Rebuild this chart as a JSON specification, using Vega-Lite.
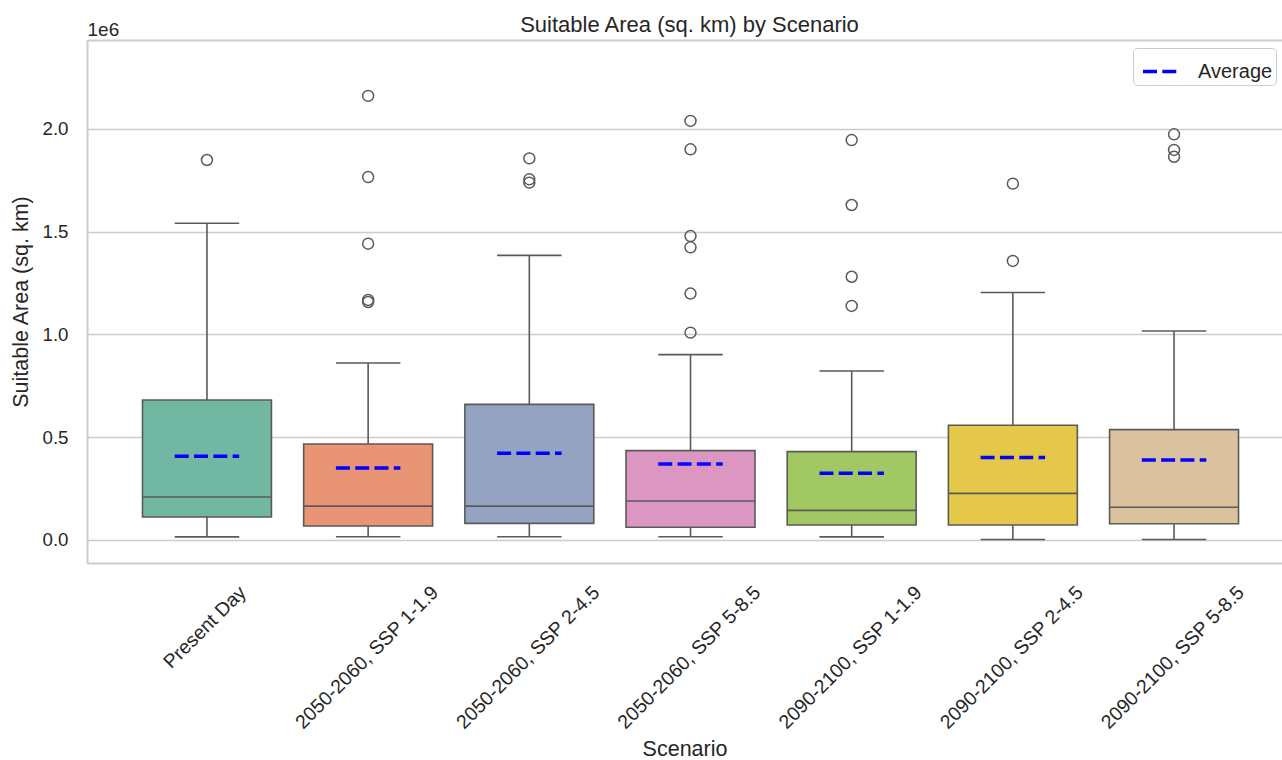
{
  "$schema": "https://vega.github.io/schema/vega-lite/v6.json",
  "autosize": {"type": "none"},
  "width": 1195,
  "height": 523,
  "padding": {"left": 87, "top": 40, "right": 0, "bottom": 197},
  "background": "white",
  "title": {"text": "Suitable Area (sq. km) by Scenario", "fontSize": 22, "fontWeight": "normal", "color": "#262626", "dx": 5, "offset": -17},
  "config": {
    "font": "Liberation Sans",
    "view": {"stroke": null},
    "axis": {"labelColor": "#262626", "titleColor": "#262626", "titleFontWeight": "normal"},
    "axisY": {
      "titleFontSize": 21.5, "titlePadding": 10,
      "labelFontSize": 18.7, "labelPadding": 19,
      "ticks": false, "tickSize": 0,
      "grid": true, "gridColor": "#cccccc", "gridWidth": 1.5,
      "domain": true, "domainColor": "#cccccc", "domainWidth": 2
    }
  },
  "datasets": {
    "boxes": [
      {"scenario": "Present Day", "lower": 15000, "q1": 112000, "median": 209000, "q3": 681000, "upper": 1541000, "mean": 407000},
      {"scenario": "2050-2060, SSP 1-1.9", "lower": 16000, "q1": 68000, "median": 165000, "q3": 467000, "upper": 861000, "mean": 350000},
      {"scenario": "2050-2060, SSP 2-4.5", "lower": 16000, "q1": 81000, "median": 165000, "q3": 660000, "upper": 1385000, "mean": 422000},
      {"scenario": "2050-2060, SSP 5-8.5", "lower": 16000, "q1": 62000, "median": 190000, "q3": 435000, "upper": 902000, "mean": 370000},
      {"scenario": "2090-2100, SSP 1-1.9", "lower": 15000, "q1": 73000, "median": 144000, "q3": 430000, "upper": 822000, "mean": 325000},
      {"scenario": "2090-2100, SSP 2-4.5", "lower": 2000, "q1": 73000, "median": 227000, "q3": 558000, "upper": 1204000, "mean": 401000},
      {"scenario": "2090-2100, SSP 5-8.5", "lower": 2000, "q1": 79000, "median": 159000, "q3": 537000, "upper": 1017000, "mean": 389000}
    ],
    "outliers": [
      {"scenario": "Present Day", "value": 1849000},
      {"scenario": "2050-2060, SSP 1-1.9", "value": 2161000},
      {"scenario": "2050-2060, SSP 1-1.9", "value": 1766000},
      {"scenario": "2050-2060, SSP 1-1.9", "value": 1442000},
      {"scenario": "2050-2060, SSP 1-1.9", "value": 1168000},
      {"scenario": "2050-2060, SSP 1-1.9", "value": 1158000},
      {"scenario": "2050-2060, SSP 2-4.5", "value": 1857000},
      {"scenario": "2050-2060, SSP 2-4.5", "value": 1755000},
      {"scenario": "2050-2060, SSP 2-4.5", "value": 1739000},
      {"scenario": "2050-2060, SSP 5-8.5", "value": 2039000},
      {"scenario": "2050-2060, SSP 5-8.5", "value": 1901000},
      {"scenario": "2050-2060, SSP 5-8.5", "value": 1479000},
      {"scenario": "2050-2060, SSP 5-8.5", "value": 1424000},
      {"scenario": "2050-2060, SSP 5-8.5", "value": 1199000},
      {"scenario": "2050-2060, SSP 5-8.5", "value": 1009000},
      {"scenario": "2090-2100, SSP 1-1.9", "value": 1946000},
      {"scenario": "2090-2100, SSP 1-1.9", "value": 1630000},
      {"scenario": "2090-2100, SSP 1-1.9", "value": 1281000},
      {"scenario": "2090-2100, SSP 1-1.9", "value": 1139000},
      {"scenario": "2090-2100, SSP 2-4.5", "value": 1734000},
      {"scenario": "2090-2100, SSP 2-4.5", "value": 1358000},
      {"scenario": "2090-2100, SSP 5-8.5", "value": 1974000},
      {"scenario": "2090-2100, SSP 5-8.5", "value": 1898000},
      {"scenario": "2090-2100, SSP 5-8.5", "value": 1865000}
    ]
  },
  "resolve": {"axis": {"x": "independent"}},
  "layer": [
    {
      "data": {"name": "boxes"},
      "mark": {"type": "rule", "color": "#5a5a5a", "strokeWidth": 1.6},
      "encoding": {
        "x": {
          "field": "scenario", "type": "nominal",
          "scale": {"domain": ["Present Day", "2050-2060, SSP 1-1.9", "2050-2060, SSP 2-4.5", "2050-2060, SSP 5-8.5", "2090-2100, SSP 1-1.9", "2090-2100, SSP 2-4.5", "2090-2100, SSP 5-8.5"], "paddingInner": 0, "paddingOuter": 0.207, "align": 0.59},
          "axis": {
            "orient": "bottom", "title": "Scenario", "titleFontSize": 21.5, "titlePadding": 6,
            "labelAngle": -45, "labelAlign": "right", "labelBaseline": "middle", "labelFontSize": 19.5,
            "labelPadding": 26, "labelLimit": 0,
            "labelOffset": {"condition": {"test": "datum.value === 'Present Day'", "value": 36}, "value": 67},
            "ticks": false, "tickSize": 0, "grid": false,
            "domain": true, "domainColor": "#cccccc", "domainWidth": 2
          }
        },
        "y": {
          "field": "lower", "type": "quantitative", "title": "Suitable Area (sq. km)",
          "scale": {"domain": [-112000, 2433000], "nice": false, "zero": false},
          "axis": {"values": [0, 500000, 1000000, 1500000, 2000000], "labelExpr": "format(datum.value / 1000000, '.1f')"}
        },
        "y2": {"field": "upper"}
      }
    },
    {
      "data": {"name": "boxes"},
      "mark": {"type": "bar", "width": {"band": 0.8}, "stroke": "#5a5a5a", "strokeWidth": 1.6},
      "encoding": {
        "x": {"field": "scenario", "type": "nominal", "axis": null},
        "y": {"field": "q1", "type": "quantitative", "title": "Suitable Area (sq. km)", "axis": {"values": [0, 500000, 1000000, 1500000, 2000000], "labelExpr": "format(datum.value / 1000000, '.1f')"}},
        "y2": {"field": "q3"},
        "fill": {
          "field": "scenario", "type": "nominal", "legend": null,
          "scale": {"domain": ["Present Day", "2050-2060, SSP 1-1.9", "2050-2060, SSP 2-4.5", "2050-2060, SSP 5-8.5", "2090-2100, SSP 1-1.9", "2090-2100, SSP 2-4.5", "2090-2100, SSP 5-8.5"], "range": ["#71b7a1", "#e99575", "#95a3c3", "#db96c1", "#a2c864", "#e5c849", "#dbc29e"]}
        }
      }
    },
    {
      "data": {"name": "boxes"},
      "mark": {"type": "rule", "color": "#5a5a5a", "strokeWidth": 1.6},
      "encoding": {
        "x": {"field": "scenario", "type": "nominal", "bandPosition": 0.1, "axis": null},
        "x2": {"field": "scenario", "bandPosition": 0.9},
        "y": {"field": "median", "type": "quantitative", "title": "Suitable Area (sq. km)", "axis": {"values": [0, 500000, 1000000, 1500000, 2000000], "labelExpr": "format(datum.value / 1000000, '.1f')"}}
      }
    },
    {
      "data": {"name": "boxes"},
      "mark": {"type": "rule", "color": "#5a5a5a", "strokeWidth": 1.6},
      "encoding": {
        "x": {"field": "scenario", "type": "nominal", "bandPosition": 0.3, "axis": null},
        "x2": {"field": "scenario", "bandPosition": 0.7},
        "y": {"field": "lower", "type": "quantitative", "title": "Suitable Area (sq. km)", "axis": {"values": [0, 500000, 1000000, 1500000, 2000000], "labelExpr": "format(datum.value / 1000000, '.1f')"}}
      }
    },
    {
      "data": {"name": "boxes"},
      "mark": {"type": "rule", "color": "#5a5a5a", "strokeWidth": 1.6},
      "encoding": {
        "x": {"field": "scenario", "type": "nominal", "bandPosition": 0.3, "axis": null},
        "x2": {"field": "scenario", "bandPosition": 0.7},
        "y": {"field": "upper", "type": "quantitative", "title": "Suitable Area (sq. km)", "axis": {"values": [0, 500000, 1000000, 1500000, 2000000], "labelExpr": "format(datum.value / 1000000, '.1f')"}}
      }
    },
    {
      "data": {"name": "boxes"},
      "mark": {"type": "rule", "strokeWidth": 3.5, "strokeDash": [14, 5.3]},
      "encoding": {
        "x": {"field": "scenario", "type": "nominal", "bandPosition": 0.3, "axis": null},
        "x2": {"field": "scenario", "bandPosition": 0.7},
        "y": {"field": "mean", "type": "quantitative", "title": "Suitable Area (sq. km)", "axis": {"values": [0, 500000, 1000000, 1500000, 2000000], "labelExpr": "format(datum.value / 1000000, '.1f')"}},
        "stroke": {
          "datum": "Average",
          "scale": {"domain": ["Average"], "range": ["#0000ff"]},
          "legend": {
            "title": null, "orient": "none", "legendX": 1046, "legendY": 8,
            "symbolType": "stroke", "symbolSize": 1369, "symbolStrokeWidth": 3.5, "symbolDash": [14, 5.3],
            "symbolOffset": 5,
            "labelFontSize": 20, "labelColor": "#262626", "labelOffset": 16,
            "padding": 3, "strokeColor": "#cccccc", "fillColor": "white", "cornerRadius": 4
          }
        }
      }
    },
    {
      "data": {"name": "outliers"},
      "mark": {"type": "point", "shape": "circle", "filled": false, "color": "#5a5a5a", "size": 120, "strokeWidth": 1.5, "opacity": 1},
      "encoding": {
        "x": {
          "field": "scenario", "type": "nominal",
          "axis": {
            "orient": "top", "title": "1e6", "labels": false, "ticks": false, "grid": false,
            "domain": true, "domainColor": "#cccccc", "domainWidth": 2,
            "titleAnchor": "start", "titleAlign": "left", "titleBaseline": "alphabetic",
            "titlePadding": 5, "titleFontSize": 19
          }
        },
        "y": {"field": "value", "type": "quantitative", "title": "Suitable Area (sq. km)", "axis": {"values": [0, 500000, 1000000, 1500000, 2000000], "labelExpr": "format(datum.value / 1000000, '.1f')"}}
      }
    }
  ]
}
